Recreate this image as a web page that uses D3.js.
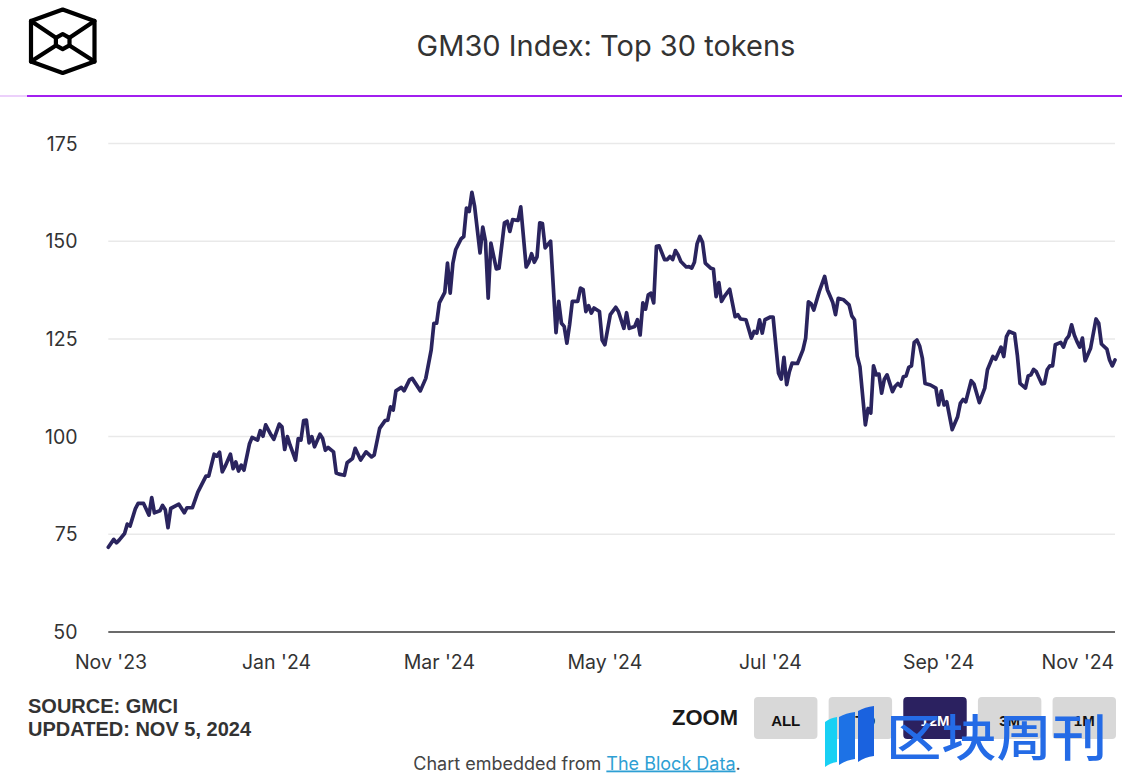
<!DOCTYPE html>
<html>
<head>
<meta charset="utf-8">
<script src="https://cdn.jsdelivr.net/npm/d3@7"></script>
<style>
  html, body { margin: 0; padding: 0; background: #fff; }
  svg { display: block; }
</style>
</head>
<body>
<svg id="chart" width="1135" height="779"></svg>
<script>
// ---------------- DATA ----------------
const chartTitle = "GM30 Index: Top 30 tokens";

const dates = [
"2023-10-31","2023-11-02","2023-11-03","2023-11-04","2023-11-06","2023-11-07","2023-11-08","2023-11-10","2023-11-11","2023-11-13",
"2023-11-15","2023-11-16","2023-11-17","2023-11-19","2023-11-20","2023-11-21","2023-11-22","2023-11-23","2023-11-26","2023-11-28",
"2023-11-29","2023-12-01","2023-12-03","2023-12-06","2023-12-07","2023-12-09","2023-12-10","2023-12-11","2023-12-12","2023-12-13",
"2023-12-15","2023-12-16","2023-12-17","2023-12-18","2023-12-19","2023-12-20","2023-12-22","2023-12-23","2023-12-25","2023-12-26",
"2023-12-27","2023-12-28","2023-12-30","2023-12-31","2024-01-02","2024-01-03","2024-01-04","2024-01-05","2024-01-06","2024-01-08",
"2024-01-09","2024-01-10","2024-01-11","2024-01-12","2024-01-13","2024-01-14","2024-01-15","2024-01-17","2024-01-18","2024-01-19",
"2024-01-20","2024-01-22","2024-01-23","2024-01-24","2024-01-26","2024-01-27","2024-01-29","2024-01-30","2024-02-01","2024-02-03",
"2024-02-05","2024-02-06","2024-02-08","2024-02-10","2024-02-11","2024-02-12","2024-02-13","2024-02-14","2024-02-16","2024-02-17",
"2024-02-19","2024-02-20","2024-02-23","2024-02-25","2024-02-27","2024-02-28","2024-02-29","2024-03-01","2024-03-03","2024-03-04",
"2024-03-05","2024-03-06","2024-03-07","2024-03-09","2024-03-10","2024-03-11","2024-03-12","2024-03-13","2024-03-14","2024-03-16",
"2024-03-17","2024-03-18","2024-03-19","2024-03-20","2024-03-22","2024-03-23","2024-03-25","2024-03-26","2024-03-27","2024-03-28",
"2024-03-30","2024-03-31","2024-04-02","2024-04-03","2024-04-04","2024-04-05","2024-04-06","2024-04-07","2024-04-08","2024-04-09",
"2024-04-11","2024-04-13","2024-04-14","2024-04-15","2024-04-16","2024-04-17","2024-04-18","2024-04-19","2024-04-21","2024-04-22",
"2024-04-23","2024-04-24","2024-04-25","2024-04-26","2024-04-27","2024-04-29","2024-04-30","2024-05-01","2024-05-03","2024-05-05",
"2024-05-06","2024-05-08","2024-05-09","2024-05-10","2024-05-12","2024-05-13","2024-05-14","2024-05-15","2024-05-16","2024-05-17",
"2024-05-18","2024-05-19","2024-05-20","2024-05-21","2024-05-23","2024-05-24","2024-05-25","2024-05-26","2024-05-27","2024-05-28",
"2024-05-29","2024-05-31","2024-06-01","2024-06-02","2024-06-03","2024-06-04","2024-06-05","2024-06-06","2024-06-07","2024-06-09",
"2024-06-10","2024-06-11","2024-06-12","2024-06-13","2024-06-14","2024-06-16","2024-06-18","2024-06-19","2024-06-20","2024-06-22",
"2024-06-24","2024-06-25","2024-06-26","2024-06-27","2024-06-28","2024-06-29","2024-07-01","2024-07-02","2024-07-04","2024-07-05",
"2024-07-06","2024-07-07","2024-07-08","2024-07-09","2024-07-11","2024-07-13","2024-07-14","2024-07-15","2024-07-16","2024-07-17",
"2024-07-19","2024-07-21","2024-07-22","2024-07-24","2024-07-25","2024-07-26","2024-07-28","2024-07-30","2024-07-31","2024-08-01",
"2024-08-02","2024-08-03","2024-08-05","2024-08-06","2024-08-07","2024-08-08","2024-08-09","2024-08-10","2024-08-11","2024-08-12",
"2024-08-13","2024-08-15","2024-08-16","2024-08-17","2024-08-18","2024-08-19","2024-08-20","2024-08-21","2024-08-22","2024-08-23",
"2024-08-24","2024-08-25","2024-08-26","2024-08-27","2024-08-29","2024-08-31","2024-09-01","2024-09-02","2024-09-03","2024-09-04",
"2024-09-06","2024-09-08","2024-09-09","2024-09-10","2024-09-11","2024-09-13","2024-09-14","2024-09-16","2024-09-18","2024-09-19",
"2024-09-21","2024-09-22","2024-09-24","2024-09-25","2024-09-26","2024-09-27","2024-09-29","2024-09-30","2024-10-01","2024-10-03",
"2024-10-04","2024-10-05","2024-10-06","2024-10-07","2024-10-09","2024-10-10","2024-10-11","2024-10-12","2024-10-13","2024-10-14",
"2024-10-16","2024-10-17","2024-10-18","2024-10-19","2024-10-20","2024-10-21","2024-10-22","2024-10-23","2024-10-24","2024-10-25",
"2024-10-27","2024-10-29","2024-10-30","2024-10-31","2024-11-02","2024-11-03","2024-11-04","2024-11-05"
];

const values = [
71.7,73.7,72.8,73.5,75.2,77.6,77.1,81.6,82.9,82.9,
79.9,84.4,80.5,81.0,82.4,81.3,76.7,81.6,82.7,80.5,
81.8,81.8,85.8,89.9,89.9,95.5,95.0,96.0,91.0,92.3,
95.5,91.8,93.5,91.2,92.7,91.4,98.1,99.8,99.1,101.5,
100.1,103.0,100.4,99.3,103.2,102.5,96.7,100.0,97.8,94.0,
99.5,99.1,104.1,104.2,98.4,100.0,97.4,100.6,99.5,96.5,
97.2,96.1,90.7,90.4,90.1,93.3,94.4,97.0,94.0,96.1,
94.8,95.3,102.1,104.1,104.2,107.6,106.8,111.7,112.6,111.7,
114.5,114.9,111.7,114.9,122.2,129.0,129.0,134.2,136.9,144.4,
136.7,144.4,147.8,150.6,151.2,158.5,157.6,162.5,158.9,147.0,
153.6,150.0,135.4,149.5,142.9,143.1,154.7,155.1,152.5,155.5,
155.3,158.8,143.4,144.6,146.8,144.6,146.0,154.7,154.5,148.3,
150.0,126.6,134.6,129.0,128.2,123.9,128.6,134.6,134.6,138.0,
137.6,132.0,133.5,131.6,132.9,132.0,124.7,123.5,131.2,133.1,
132.0,127.7,131.7,127.7,128.2,129.9,126.0,134.2,132.6,136.3,
136.7,134.2,148.7,148.8,145.3,145.3,146.1,145.3,147.6,146.5,
144.8,143.4,143.5,143.1,144.6,149.4,151.2,149.7,144.4,143.1,
142.9,135.8,139.4,134.6,135.8,137.7,130.7,131.2,130.1,129.9,
125.2,126.9,126.5,129.9,126.5,129.9,130.6,130.6,116.2,114.7,
120.3,113.3,116.6,118.8,118.7,122.2,125.2,134.5,134.0,132.4,
137.1,141.0,137.6,134.3,131.2,135.4,135.0,133.7,130.9,129.9,
120.6,117.9,103.0,107.2,106.0,118.1,115.8,116.0,111.1,114.7,
115.8,111.5,112.9,113.6,112.9,115.3,115.5,117.7,118.1,124.1,
124.7,123.2,120.1,113.6,113.2,112.4,108.1,111.7,108.1,108.9,
101.8,105.1,108.5,109.5,108.9,114.3,113.5,108.7,112.4,117.1,
120.5,119.8,122.9,120.5,125.6,126.9,126.3,120.9,113.6,112.4,
115.5,115.8,117.2,116.6,113.5,113.6,117.1,118.1,118.1,123.5,
124.1,122.9,124.9,125.8,128.6,126.0,124.3,122.9,125.2,119.4,
122.6,130.1,129.0,123.7,122.4,119.6,118.1,119.6
];

const yTicks = [50, 75, 100, 125, 150, 175];
const xTickDates = ["2023-11-01","2024-01-01","2024-03-01","2024-05-01","2024-07-01","2024-09-01","2024-11-01"];
const xTickLabels = ["Nov '23","Jan '24","Mar '24","May '24","Jul '24","Sep '24","Nov '24"];
const zoomButtons = ["ALL","YTD","12M","3M","1M"];
const activeButton = "12M";
const sourceLines = ["SOURCE: GMCI","UPDATED: NOV 5, 2024"];

// ---------------- DRAW ----------------
const parse = d3.utcParse("%Y-%m-%d");
const data = dates.map((d, i) => ({ date: parse(d), value: values[i] }));

const svg = d3.select("#chart");
const W = 1135, H = 779;
svg.append("rect").attr("width", W).attr("height", H).attr("fill", "#fff");

const plot = { left: 108.3, right: 1115, top: 143.5, bottom: 632 };

const x = d3.scaleUtc()
  .domain(d3.extent(data, d => d.date))
  .range([plot.left, plot.right]);
const y = d3.scaleLinear()
  .domain([50, 175])
  .range([plot.bottom, plot.top]);

// Logo
const logo = svg.append("g")
  .attr("fill", "none").attr("stroke", "#000").attr("stroke-width", 4.2)
  .attr("stroke-linejoin", "round").attr("stroke-linecap", "round");
logo.append("path").attr("d", "M62.7,9.5 L94.5,21 L94.5,61.5 L62.7,73 L31,61.5 L31,21 Z");
logo.append("path").attr("d", "M62.7,34 L69.5,37.8 L69.5,45.4 L62.7,49.2 L55.9,45.4 L55.9,37.8 Z");
logo.append("path").attr("d", "M31,21 L55.9,37.8 M94.5,21 L69.5,37.8 M31,61.5 L55.9,45.4 M94.5,61.5 L69.5,45.4");

// Title
svg.append("text")
  .attr("x", 606).attr("y", 56)
  .attr("text-anchor", "middle")
  .attr("font-family", "Inter, 'Noto Sans', sans-serif")
  .attr("font-size", 29)
  .attr("fill", "#333")
  .text(chartTitle);

// Purple rule
svg.append("line").attr("x1", 0).attr("x2", 27).attr("y1", 96).attr("y2", 96)
  .attr("stroke", "#ecd0fb").attr("stroke-width", 2);
svg.append("line").attr("x1", 27).attr("x2", 1122).attr("y1", 96).attr("y2", 96)
  .attr("stroke", "#a21ff0").attr("stroke-width", 2);

// Grid lines + y labels
const yAxis = svg.append("g");
yTicks.forEach(t => {
  if (t !== 50) {
    yAxis.append("line")
      .attr("x1", plot.left).attr("x2", plot.right)
      .attr("y1", y(t)).attr("y2", y(t))
      .attr("stroke", "#e9e9e9").attr("stroke-width", 1.5);
  }
  yAxis.append("text")
    .attr("x", 77.5).attr("y", y(t) + 7)
    .attr("text-anchor", "end")
    .attr("font-family", "Inter, sans-serif")
    .attr("font-size", 19.5)
    .attr("fill", "#333")
    .text(t);
});

// X axis line
svg.append("line")
  .attr("x1", plot.left).attr("x2", plot.right)
  .attr("y1", y(50)).attr("y2", y(50))
  .attr("stroke", "#6b6b6b").attr("stroke-width", 2.2);

// X labels
const xLab = svg.append("g")
  .attr("font-family", "Inter, sans-serif")
  .attr("font-size", 19.5)
  .attr("fill", "#333");
xTickDates.forEach((d, i) => {
  const px = x(parse(d));
  const t = xLab.append("text").attr("y", 669).text(xTickLabels[i]);
  const w = t.node().getComputedTextLength();
  if (px + w / 2 > plot.right) {
    t.attr("x", plot.right - 1).attr("text-anchor", "end");
  } else {
    t.attr("x", px).attr("text-anchor", "middle");
  }
});

// Line
const line = d3.line()
  .x(d => x(d.date))
  .y(d => y(d.value));
svg.append("path")
  .datum(data)
  .attr("d", line)
  .attr("fill", "none")
  .attr("stroke", "#2a245e")
  .attr("stroke-width", 3.7)
  .attr("stroke-linejoin", "round")
  .attr("stroke-linecap", "round");

// Source text
sourceLines.forEach((s, i) => {
  svg.append("text")
    .attr("x", 28).attr("y", 713 + i * 22.5)
    .attr("font-family", "'Liberation Sans', Arial, sans-serif")
    .attr("font-weight", 700)
    .attr("font-size", 20)
    .attr("fill", "#333")
    .text(s);
});

// Zoom controls
svg.append("text")
  .attr("x", 672).attr("y", 725)
  .attr("font-family", "'Liberation Sans', Arial, sans-serif")
  .attr("font-weight", 700)
  .attr("font-size", 22)
  .attr("fill", "#1a1a1a")
  .text("ZOOM");

const bx = d3.scaleBand().domain(zoomButtons).range([754, 1116]).paddingInner(0.15).paddingOuter(0);
zoomButtons.forEach(b => {
  const active = b === activeButton;
  svg.append("rect")
    .attr("x", bx(b)).attr("y", 697)
    .attr("width", bx.bandwidth()).attr("height", 42)
    .attr("rx", 4)
    .attr("fill", active ? "#2b2160" : "#d8d8d8");
  svg.append("text")
    .attr("x", bx(b) + bx.bandwidth() / 2).attr("y", 725.5)
    .attr("text-anchor", "middle")
    .attr("font-family", "'Liberation Sans', Arial, sans-serif")
    .attr("font-weight", 700)
    .attr("font-size", 15)
    .attr("fill", active ? "#fff" : "#111")
    .text(b);
});

// Footer
const foot = svg.append("text")
  .attr("x", 577).attr("y", 769.5)
  .attr("text-anchor", "middle")
  .attr("font-family", "Inter, sans-serif")
  .attr("font-size", 18)
  .attr("fill", "#444");
foot.append("tspan").text("Chart embedded from ");
foot.append("tspan").attr("fill", "#2e9fd4").attr("text-decoration", "underline").text("The Block Data");
foot.append("tspan").text(".");

// Watermark
const wm = svg.append("g");
wm.append("path").attr("d", "M825,722 Q830,718 837,717 L837,762 Q830,763 825,767 Z").attr("fill", "#18d0f4");
wm.append("path").attr("d", "M839,717 Q846,713 855,712 L855,759 Q846,760 839,765 Z").attr("fill", "#1d72e6");
wm.append("path").attr("d", "M858,711 Q865,707 874,706 L874,756 Q865,757 858,762 Z").attr("fill", "#1a62df");
wm.append("text")
  .attr("x", 886).attr("y", 756)
  .attr("font-family", "'Noto Sans CJK SC', sans-serif")
  .attr("font-weight", 500)
  .attr("font-size", 50)
  .attr("textLength", 221)
  .attr("lengthAdjust", "spacingAndGlyphs")
  .attr("fill", "#246be6")
  .text("区块周刊");
</script>
</body>
</html>
